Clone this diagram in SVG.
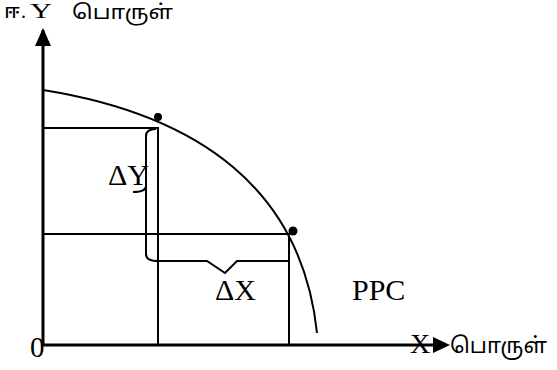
<svg xmlns="http://www.w3.org/2000/svg" width="557" height="370" viewBox="0 0 557 370">
<style>
.ln{stroke:#000;stroke-width:2;fill:none}
.ax{stroke:#000;stroke-width:3;fill:none}
.serif{font-family:"Liberation Serif","Times New Roman",serif;fill:#000}
.tam{font-family:"Noto Sans Tamil","Noto Sans","Lato",sans-serif;fill:#000}
</style>
<g id="connectors">
<line class="ax" x1="43" y1="346" x2="43" y2="30"/>
<path d="M35,46 L43,28 L51,46 Z" fill="#000"/>
<line class="ax" x1="43" y1="345" x2="435" y2="345"/>
<path d="M433,337 L450,345 L433,353 Z" fill="#000"/>
<path class="ln" d="M43,90 C200,115 302,190 317,333"/>
<polyline class="ln" points="43,128 158,128 158,345"/>
<polyline class="ln" points="43,234 289,234 289,345"/>
<path class="ln" d="M156,129 Q146,129 146,136 L146,254 Q146,261 158,261 L207,261 L225,273 L237,261 L289,261"/>
<path class="ln" d="M133,192 Q146,192 146,186"/>
<circle cx="158" cy="117" r="4" fill="#000"/>
<circle cx="293" cy="231" r="4.5" fill="#000"/>
</g>
<g id="ylabel">
<text class="tam" x="4" y="18" font-size="20" textLength="16" lengthAdjust="spacingAndGlyphs">ஈ</text>
<text class="serif" x="21" y="18" font-size="20">.</text>
<text class="serif" x="30" y="18" font-size="20" textLength="22" lengthAdjust="spacingAndGlyphs">Y</text>
<text class="tam" x="72" y="19" font-size="20" textLength="101" lengthAdjust="spacingAndGlyphs">பொருள்</text>
</g>
<g id="xlabel">
<text class="serif" x="410" y="353" font-size="28">X</text>
<text class="tam" x="450" y="353" font-size="22" textLength="97" lengthAdjust="spacingAndGlyphs">பொருள்</text>
</g>
<g id="origin"><text class="serif" x="30" y="357" font-size="29">0</text></g>
<g id="dy"><text class="serif" x="108" y="185" font-size="30">ΔY</text></g>
<g id="dx"><text class="serif" x="215" y="300" font-size="30">ΔX</text></g>
<g id="ppc"><text class="serif" x="352" y="300" font-size="30">PPC</text></g>
</svg>
